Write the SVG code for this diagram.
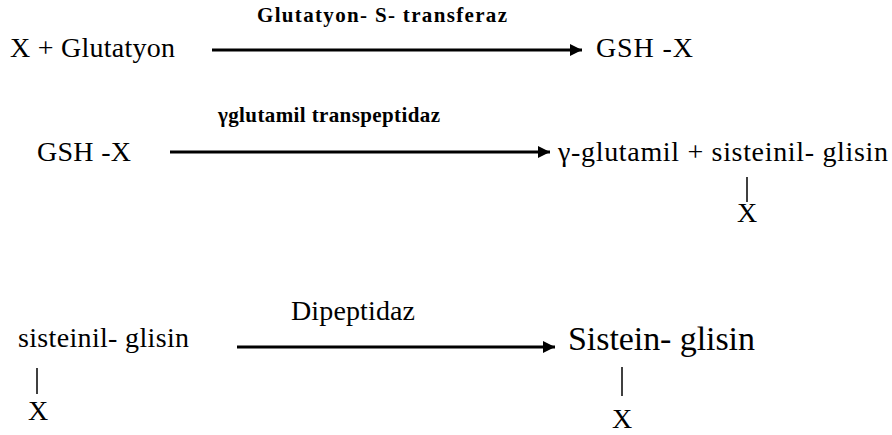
<svg xmlns="http://www.w3.org/2000/svg" width="892" height="435" viewBox="0 0 892 435">
<defs>
<style>
text{fill:#000;}
.lb{font-weight:bold;font-size:21px;}
.ar{stroke:#000;stroke-width:3;fill:none;}
.bd{stroke:#000;stroke-width:1.5;fill:none;}
</style>
<marker id="ah" viewBox="0 0 10 10" refX="10" refY="5" markerWidth="5" markerHeight="4" markerUnits="strokeWidth" orient="auto">
<path d="M0,0 L10,5 L0,10 Z" fill="#000"/>
</marker>
</defs>
<rect width="892" height="435" fill="#fff"/>
<g id="connectors">
<line class="ar" x1="212" y1="50" x2="582" y2="50" marker-end="url(#ah)"/>
<line class="ar" x1="170" y1="152" x2="550" y2="152" marker-end="url(#ah)"/>
<line class="ar" x1="237" y1="347" x2="555" y2="347" marker-end="url(#ah)"/>
<line class="bd" x1="747" y1="177" x2="747" y2="202"/>
<line class="bd" x1="37" y1="368" x2="37" y2="394"/>
<line class="bd" x1="622" y1="367" x2="622" y2="396"/>
</g>
<g font-family="Liberation Serif, Times New Roman, serif">
<g id="r1-left"><text x="10" y="57" font-size="28" textLength="165" lengthAdjust="spacing">X + Glutatyon</text></g>
<g id="r1-label"><text class="lb" x="257" y="22" textLength="250" lengthAdjust="spacing">Glutatyon- S- transferaz</text></g>
<g id="r1-right"><text x="596" y="57" font-size="28" textLength="97" lengthAdjust="spacing">GSH -X</text></g>
<g id="r2-left"><text x="37" y="161" font-size="28" textLength="94" lengthAdjust="spacing">GSH -X</text></g>
<g id="r2-label"><text class="lb" x="218" y="122" textLength="222" lengthAdjust="spacing">γglutamil transpeptidaz</text></g>
<g id="r2-right"><text x="558" y="161" font-size="28" textLength="330" lengthAdjust="spacing">γ-glutamil + sisteinil- glisin</text></g>
<g id="r2-x"><text x="737" y="222" font-size="28">X</text></g>
<g id="r3-label"><text x="291" y="320" font-size="28" textLength="124" lengthAdjust="spacing">Dipeptidaz</text></g>
<g id="r3-left"><text x="18" y="347" font-size="28" textLength="171" lengthAdjust="spacing">sisteinil- glisin</text></g>
<g id="r3-left-x"><text x="28" y="420" font-size="28">X</text></g>
<g id="r3-right"><text x="568" y="350" font-size="34" textLength="187" lengthAdjust="spacing">Sistein- glisin</text></g>
<g id="r3-right-x"><text x="612" y="428" font-size="28">X</text></g>
</g>
</svg>
